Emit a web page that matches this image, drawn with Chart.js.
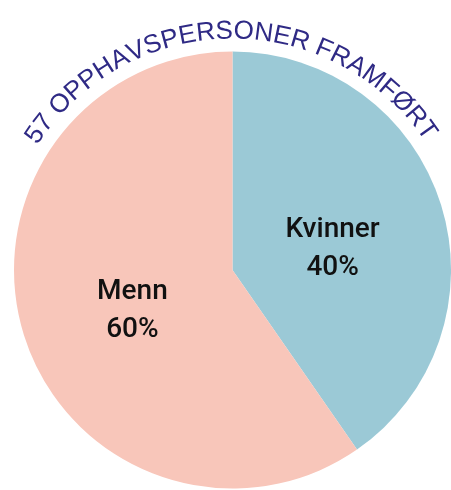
<!DOCTYPE html>
<html lang="no">
<head>
<meta charset="utf-8">
<title>57 opphavspersoner framført</title>
<script src="https://cdn.jsdelivr.net/npm/chart.js@4.4.1/dist/chart.umd.min.js"></script>
<style>
    html, body { margin: 0; padding: 0; background: #ffffff; }
    #wrap { width: 451px; height: 490px; position: relative; }
</style>
</head>
<body>
<div id="wrap"><canvas id="pie-chart"></canvas></div>
<script>
// Chart data
const categories = ["Kvinner", "Menn"];
const counts = [23, 34];
const percentLabels = ["40%", "60%"];
const sliceColors = ["#9bc9d6", "#f8c6ba"];
const titleText = "57 OPPHAVSPERSONER FRAMFØRT";

document.addEventListener("DOMContentLoaded", () => {
    // Draws the title bent along the top of the pie, plus labels inside slices
    const piePlugin = {
        id: "pieText",
        afterDraw(chart) {
            const ctx = chart.ctx;
            const arcs = chart.getDatasetMeta(0).data;
            if (!arcs.length) return;
            const cx = arcs[0].x;
            const cy = arcs[0].y;
            const r = arcs[0].outerRadius;

            // Curved title
            ctx.save();
            ctx.font = "26px 'Liberation Sans', Arial, sans-serif";
            ctx.fillStyle = "#2f2a85";
            ctx.textAlign = "center";
            ctx.textBaseline = "alphabetic";
            const radius = r + 13;
            const total = ctx.measureText(titleText).width;
            let angle = -total / 2 / radius - 0.015;
            for (const ch of titleText) {
                const w = ctx.measureText(ch).width;
                angle += w / 2 / radius;
                ctx.save();
                ctx.translate(cx + radius * Math.sin(angle), cy - radius * Math.cos(angle));
                ctx.rotate(angle);
                ctx.fillText(ch, 0, 0);
                ctx.restore();
                angle += w / 2 / radius;
            }
            ctx.restore();

            // Slice labels
            ctx.save();
            ctx.font = "500 28px Roboto, 'Liberation Sans', sans-serif";
            ctx.fillStyle = "#111111";
            ctx.textAlign = "center";
            ctx.textBaseline = "middle";
            arcs.forEach((arc, i) => {
                const mid = (arc.startAngle + arc.endAngle) / 2;
                const dist = r * 0.48;
                const x = cx + dist * Math.cos(mid);
                const y = cy + dist * Math.sin(mid) + 10;
                ctx.fillText(categories[i], x, y - 19);
                ctx.fillText(percentLabels[i], x, y + 19);
            });
            ctx.restore();
        }
    };

    const ctx = document.getElementById("pie-chart").getContext("2d");

    new Chart(ctx, {
        type: "pie",
        data: {
            labels: categories,
            datasets: [{
                data: counts,
                backgroundColor: sliceColors,
                borderWidth: 0
            }]
        },
        options: {
            responsive: true,
            maintainAspectRatio: false,
            animation: false,
            layout: {
                padding: { top: 51, bottom: 1, left: 14, right: 0 }
            },
            plugins: {
                legend: { display: false },
                tooltip: { enabled: false }
            }
        },
        plugins: [piePlugin]
    });
});
</script>
</body>
</html>
